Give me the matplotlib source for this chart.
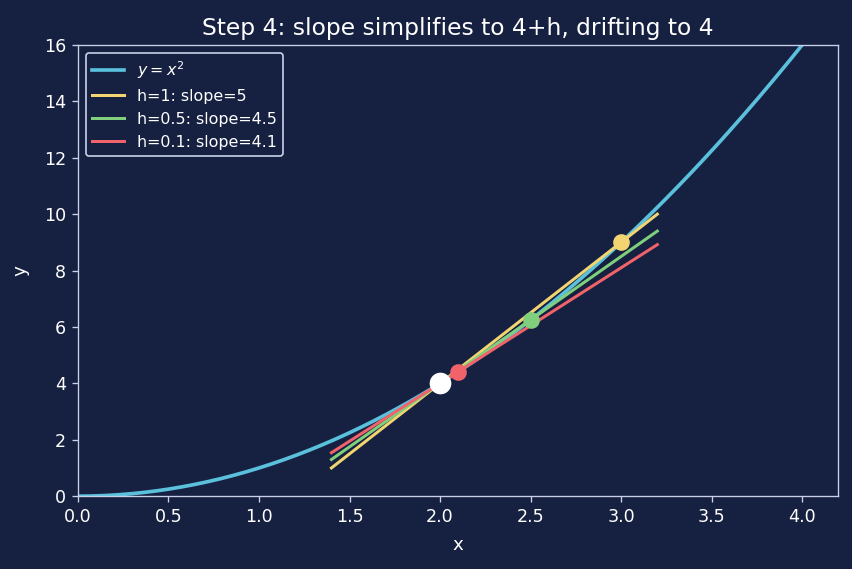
import numpy as np
import matplotlib
matplotlib.use("Agg", force=True)
import matplotlib.pyplot as plt

# data
x0 = 2.0
h_values = [1.0, 0.5, 0.1]
slopes = [5.0, 4.5, 4.1]
line_labels = ["h=1: slope=5", "h=0.5: slope=4.5", "h=0.1: slope=4.1"]
line_colors = ["#f2d571", "#7fcf7c", "#f0636a"]
sec_x = [1.4, 3.2]
curve_x = np.linspace(0, 4.2, 300)

BG = "#162040"
FG = "#c9d1ea"

fig, ax = plt.subplots(figsize=(7.1, 569 / 120), dpi=120)
fig.patch.set_facecolor(BG)
ax.set_facecolor(BG)

ax.plot(curve_x, curve_x ** 2, color="#5bc0dc", lw=2.2, label="$y=x^2$", zorder=2)

y0 = x0 ** 2
for h, m, lab, c in zip(h_values, slopes, line_labels, line_colors):
    xs = np.array(sec_x)
    ax.plot(xs, y0 + m * (xs - x0), color=c, lw=1.8, label=lab, zorder=3)

for h, c in zip(h_values, line_colors):
    ax.plot([x0 + h], [(x0 + h) ** 2], "o", color=c, ms=9, zorder=4)
ax.plot([x0], [y0], "o", color="white", ms=12, zorder=5)

ax.set_xlim(0, 4.2)
ax.set_ylim(0, 16)
ax.set_xticks(np.arange(0, 4.01, 0.5))
ax.set_yticks(np.arange(0, 16.1, 2))
ax.set_xlabel("x", color="white", fontsize=11, labelpad=6)
ax.set_ylabel("y", color="white", fontsize=11, labelpad=9)
ax.set_title("Step 4: slope simplifies to 4+h, drifting to 4", color="white", fontsize=14)
ax.tick_params(colors=FG, labelcolor="white", labelsize=10.5)
for s in ax.spines.values():
    s.set_color(FG)

leg = ax.legend(loc="upper left", fontsize=9.5, facecolor=BG, edgecolor=FG, framealpha=1)
for t in leg.get_texts():
    t.set_color("white")

fig.subplots_adjust(left=0.0915, right=0.984, top=0.921, bottom=0.128)
fig.savefig("out.png", dpi=120, facecolor=BG)
